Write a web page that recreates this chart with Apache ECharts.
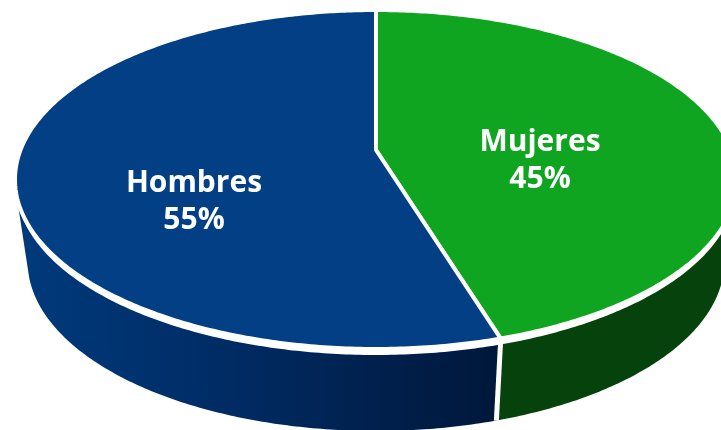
<!DOCTYPE html>
<html><head><meta charset="utf-8">
<style>html,body{margin:0;padding:0;background:#fff;overflow:hidden}#c{width:721px;height:430px}</style>
<script src="https://cdn.jsdelivr.net/npm/echarts@6/dist/echarts.min.js"></script>
</head><body><div id="c"></div>
<script>
const categories = ['Mujeres', 'Hombres'];
const values = [45, 55];
const percentLabels = ['45%', '55%'];

const topColors = ['#10a521', '#023f85'];
const sideColors = [
  '#06420c',
  new echarts.graphic.LinearGradient(0, 0, 1, 0, [
    {offset: 0, color: '#003a7c'},
    {offset: 0.45, color: '#002b63'},
    {offset: 1, color: '#00173a'}
  ])
];
const labelCentres = [[540, 161], [194, 202]];

// perspective disc
const apexX = 376, apexY = 150, halfW = 355.5, slant = 138.26, tilt = 0.174, depth = 82, depthScale = 0.965, rim = 6, warp = 0.056;
const frontFrom = 102 * Math.PI / 180, frontTo = 258 * Math.PI / 180;
function project(angle, drop) {
  const a = angle + warp * Math.sin(angle);
  const u = Math.sin(a), v = Math.cos(a), w = 1 + tilt * v;
  const s = 1 - (1 - depthScale) * drop / depth;
  return [apexX + s * halfW * u / w, (apexY - slant * v) / w + drop];
}
const total = values.reduce((a, b) => a + b, 0);
function span(i) {
  const before = values.slice(0, i).reduce((a, b) => a + b, 0);
  return [before / total * Math.PI * 2, (before + values[i]) / total * Math.PI * 2];
}
function arc(a0, a1, drop) {
  const n = Math.max(2, Math.ceil((a1 - a0) * 90)), pts = [];
  for (let k = 0; k <= n; k++) pts.push(project(a0 + (a1 - a0) * k / n, drop));
  return pts;
}
const data = categories.map((name, i) => ({name, value: values[i]}));

const chart = echarts.init(document.getElementById('c'), null, {renderer: 'canvas'});
chart.setOption({
  animation: false,
  backgroundColor: '#fff',
  series: [
    {
      type: 'custom', coordinateSystem: 'none', data, silent: true,
      renderItem(p) {
        const i = p.dataIndex, [a0, a1] = span(i);
        const f0 = Math.max(a0, frontFrom), f1 = Math.min(a1, frontTo);
        const pts = arc(f0, f1, 0).concat(arc(f0, f1, depth).reverse());
        const band = arc(f0, f1, 0).concat(arc(f0, f1, rim).reverse());
        const t0 = project(f0, 0), b0 = project(f0, depth);
        const children = [
          {type: 'polygon', shape: {points: pts}, style: {fill: sideColors[i]}},
          {type: 'polygon', shape: {points: band}, style: {fill: '#fff'}, z2: 4}
        ];
        if (a0 >= frontFrom) children.push({type: 'line', shape: {x1: t0[0], y1: t0[1], x2: b0[0], y2: b0[1]}, style: {stroke: '#fff', lineWidth: 5}, z2: 5});
        return {type: 'group', children};
      }
    },
    {
      type: 'custom', coordinateSystem: 'none', data, silent: true,
      renderItem(p) {
        const i = p.dataIndex, [a0, a1] = span(i);
        const pts = [[apexX, apexY]].concat(arc(a0, a1, 0));
        const [cx, cy] = labelCentres[i];
        const font = {fill: '#fff', fontFamily: 'Open Sans', fontWeight: 700, fontSize: 30, align: 'center', verticalAlign: 'middle'};
        return {type: 'group', children: [
          {type: 'polygon', shape: {points: pts}, style: {fill: topColors[i], stroke: '#fff', lineWidth: 4, lineJoin: 'miter'}},
          {type: 'text', x: cx, y: cy - 19, style: Object.assign({text: categories[i]}, font), z2: 10},
          {type: 'text', x: cx, y: cy + 18, style: Object.assign({text: percentLabels[i]}, font), z2: 10}
        ]};
      }
    }
  ]
});
</script></body></html>
